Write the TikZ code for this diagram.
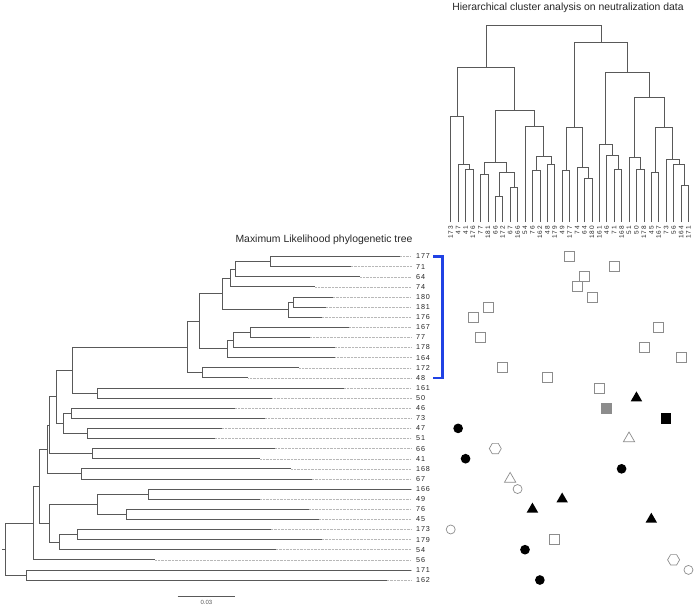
\documentclass[tikz,border=0pt]{standalone}
\usepackage{fontspec}
\setmainfont{Liberation Sans}
\newfontfamily\tipfont[LetterSpace=12]{Liberation Sans}
\usetikzlibrary{calc,shapes.geometric}

\definecolor{branchgray}{gray}{0.35}
\definecolor{dotgray}{gray}{0.72}
\definecolor{markgray}{gray}{0.55}
\definecolor{bracketblue}{RGB}{32,66,228}

\tikzset{
  branch/.style={branchgray, line width=0.75pt},
  dlink/.style={branchgray, line width=0.7pt},
  dotline/.style={dotgray, line width=0.4pt, densely dotted},
  tiplabel/.style={anchor=west, inner xsep=5pt, inner ysep=0pt, text=black!85,
    font=\tipfont\fontsize{7.2}{8}\selectfont},
  dlabel/.style={rotate=90, anchor=east, inner sep=0pt, text=black!85,
    font=\tipfont\fontsize{6.5}{7}\selectfont},
  heading/.style={inner sep=0pt, text=black!85, font=\fontsize{10.4}{12}\selectfont},
  opensq/.style={draw=markgray, fill=white, line width=0.7pt, minimum size=10pt, inner sep=0pt},
  greysq/.style={opensq, fill=markgray},
  blacksq/.style={fill=black, minimum size=10.5pt, inner sep=0pt},
  blackdot/.style={circle, fill=black, minimum size=9.7pt, inner sep=0pt},
  opendot/.style={circle, draw=markgray, line width=0.7pt, minimum size=9pt, inner sep=0pt},
  openhex/.style={regular polygon, regular polygon sides=6, draw=markgray, line width=0.7pt,
    minimum size=12pt, inner sep=0pt},
  opentri/.style={regular polygon, regular polygon sides=3, draw=markgray, line width=0.7pt,
    minimum size=13pt, inner sep=0pt},
  blacktri/.style={regular polygon, regular polygon sides=3, fill=black, minimum size=13.3pt,
    inner sep=0pt},
  bracket/.style={bracketblue, line width=2.6pt},
}

% join two tree children at branch point x
\newcommand{\tmerge}[4]{%
  \path ($(#2)!0.5!(#3)$) coordinate (#1m);
  \coordinate (#1) at (#4,0 |- #1m);
  \draw[branch] (#2) -- (#2 -| #1) -- (#3 -| #1) -- (#3);
}
% join two dendrogram children at height y
\newcommand{\dmerge}[4]{%
  \path ($(#2)!0.5!(#3)$) coordinate (#1m);
  \coordinate (#1) at (#1m |- 0,#4);
  \draw[dlink] (#2) -- (#2 |- #1) -- (#3 |- #1) -- (#3);
}

\begin{document}
\begin{tikzpicture}[x=1pt, y=-1pt]
\useasboundingbox (0,0) rectangle (696,607);

\node[heading] (dtitle) at (568,8) {Hierarchical cluster analysis on neutralization data};
\node[heading] (ttitle) at (324,239.5) {Maximum Likelihood phylogenetic tree};

% tips of the ML tree
\foreach \lab/\len [count=\i from 0] in {177/400, 71/350.7, 64/360, 74/315, 180/332.7,
    181/325.7, 176/321.7, 167/348.7, 77/310, 178/335, 164/335.3, 172/299, 48/248.3,
    161/344, 50/272.3, 46/235, 73/265, 47/222, 51/215, 66/275, 41/260, 168/291,
    67/311.7, 166/410.7, 49/260, 76/309, 45/319, 173/270.7, 179/321.7, 54/275.7,
    56/155, 171/410.7, 162/386.7} {
  \coordinate (l\lab) at (\len, 256.5+10.11*\i);
  \node[tiplabel] (t\lab) at (411, 256.5+10.11*\i) {\lab};
  \draw[dotline] (l\lab) -- (t\lab.west);
}

% ML tree
\tmerge{a1}{l177}{l71}{270}
\tmerge{a2}{a1}{l64}{235.7}
\tmerge{a3}{a2}{l74}{230}
\tmerge{b1}{l180}{l181}{293.3}
\tmerge{b2}{b1}{l176}{288.3}
\tmerge{a4}{a3}{b2}{222.3}
\tmerge{c1}{l167}{l77}{250}
\tmerge{c2}{c1}{l178}{233.3}
\tmerge{c3}{c2}{l164}{227.3}
\tmerge{a5}{a4}{c3}{199.3}
\tmerge{d1}{l172}{l48}{202.7}
\tmerge{a6}{a5}{d1}{187.7}
\tmerge{e1}{l161}{l50}{97.3}
\tmerge{a7}{a6}{e1}{72.3}
\tmerge{f1}{l46}{l73}{71.7}
\tmerge{f2}{l47}{l51}{87.3}
\tmerge{f3}{f1}{f2}{63.3}
\tmerge{a8}{a7}{f3}{56.7}
\tmerge{g1}{l66}{l41}{92.3}
\tmerge{a9}{a8}{g1}{49}
\tmerge{h1}{l168}{l67}{81}
\tmerge{a10}{a9}{h1}{47.7}
\tmerge{i1}{l166}{l49}{148.3}
\tmerge{i2}{l76}{l45}{126.7}
\tmerge{i3}{i1}{i2}{97.3}
\tmerge{j1}{l173}{l179}{77.7}
\tmerge{j2}{j1}{l54}{59.3}
\tmerge{k1}{i3}{j2}{49}
\tmerge{a11}{a10}{k1}{39}
\tmerge{a12}{a11}{l56}{33.7}
\tmerge{m1}{l171}{l162}{26}
\tmerge{root}{a12}{m1}{5.7}
\draw[branch] (root) -- ++(-4,0);

% scale bar
\coordinate (sb0) at (177.7,596.7);
\coordinate (sb1) at (235,596.7);
\draw[branch] (sb0) -- (sb1) node[midway, anchor=north, inner sep=0pt, yshift=-3.5pt,
  font=\fontsize{6}{7}\selectfont] (sblab) {0.03};

% blue bracket
\draw[bracket] (l177 -| 433,0) -- ++(9.5,0) |- (l48 -| 433,0);

% leaves of the cluster dendrogram
\foreach \lab [count=\k from 0] in {173,47,41,176,77,181,66,172,67,166,54,76,162,48,179,
    49,177,74,64,180,161,46,71,168,51,50,178,45,167,73,56,164,171} {
  \coordinate (d\lab) at (450.7+7.43*\k, 222);
  \node[dlabel] (n\lab) at (450.7+7.43*\k, 226) {\lab};
}

% dendrogram
\dmerge{p1}{d41}{d176}{169}
\dmerge{p2}{d47}{p1}{164.3}
\dmerge{p3}{d173}{p2}{116}
\dmerge{p4}{d77}{d181}{174.3}
\dmerge{p5}{d66}{d172}{196}
\dmerge{p6}{d67}{d166}{187.7}
\dmerge{p7}{p5}{p6}{172.3}
\dmerge{p8}{p4}{p7}{162.7}
\dmerge{p9}{d76}{d162}{170.7}
\dmerge{p10}{d48}{d179}{164.3}
\dmerge{p11}{p9}{p10}{156.7}
\dmerge{p12}{d54}{p11}{126}
\dmerge{p13}{p8}{p12}{110.7}
\dmerge{p14}{p3}{p13}{67.7}
\dmerge{q1}{d49}{d177}{170.7}
\dmerge{q2}{d64}{d180}{178.3}
\dmerge{q3}{d74}{q2}{167.7}
\dmerge{q4}{q1}{q3}{127.3}
\dmerge{q5}{d71}{d168}{169}
\dmerge{q6}{d46}{q5}{155}
\dmerge{q7}{d161}{q6}{144.3}
\dmerge{q8}{d50}{d178}{169}
\dmerge{q9}{d51}{q8}{157.7}
\dmerge{q10}{d45}{d167}{172.3}
\dmerge{q11}{d164}{d171}{185.7}
\dmerge{q12}{d56}{q11}{164}
\dmerge{q13}{d73}{q12}{159}
\dmerge{q14}{q10}{q13}{127.3}
\dmerge{q15}{q9}{q14}{97.3}
\dmerge{q16}{q7}{q15}{72.7}
\dmerge{q17}{q4}{q16}{42.3}
\dmerge{top}{p14}{q17}{25}

% neutralization profile of each strain
\foreach \lab/\sym in {177/opensq, 71/opensq, 64/opensq, 74/opensq, 180/opensq,
    181/opensq, 176/opensq, 167/opensq, 77/opensq, 178/opensq, 164/opensq, 172/opensq,
    48/opensq, 161/opensq, 50/blacktri, 46/greysq, 73/blacksq, 47/blackdot, 51/opentri,
    66/openhex, 41/blackdot, 168/blackdot, 67/opentri, 166/opendot, 49/blacktri,
    76/blacktri, 45/blacktri, 173/opendot, 179/opensq, 54/blackdot, 56/openhex,
    171/opendot, 162/blackdot} {
  \node[\sym] (s\lab) at (d\lab |- l\lab) {};
}
\end{tikzpicture}
\end{document}
